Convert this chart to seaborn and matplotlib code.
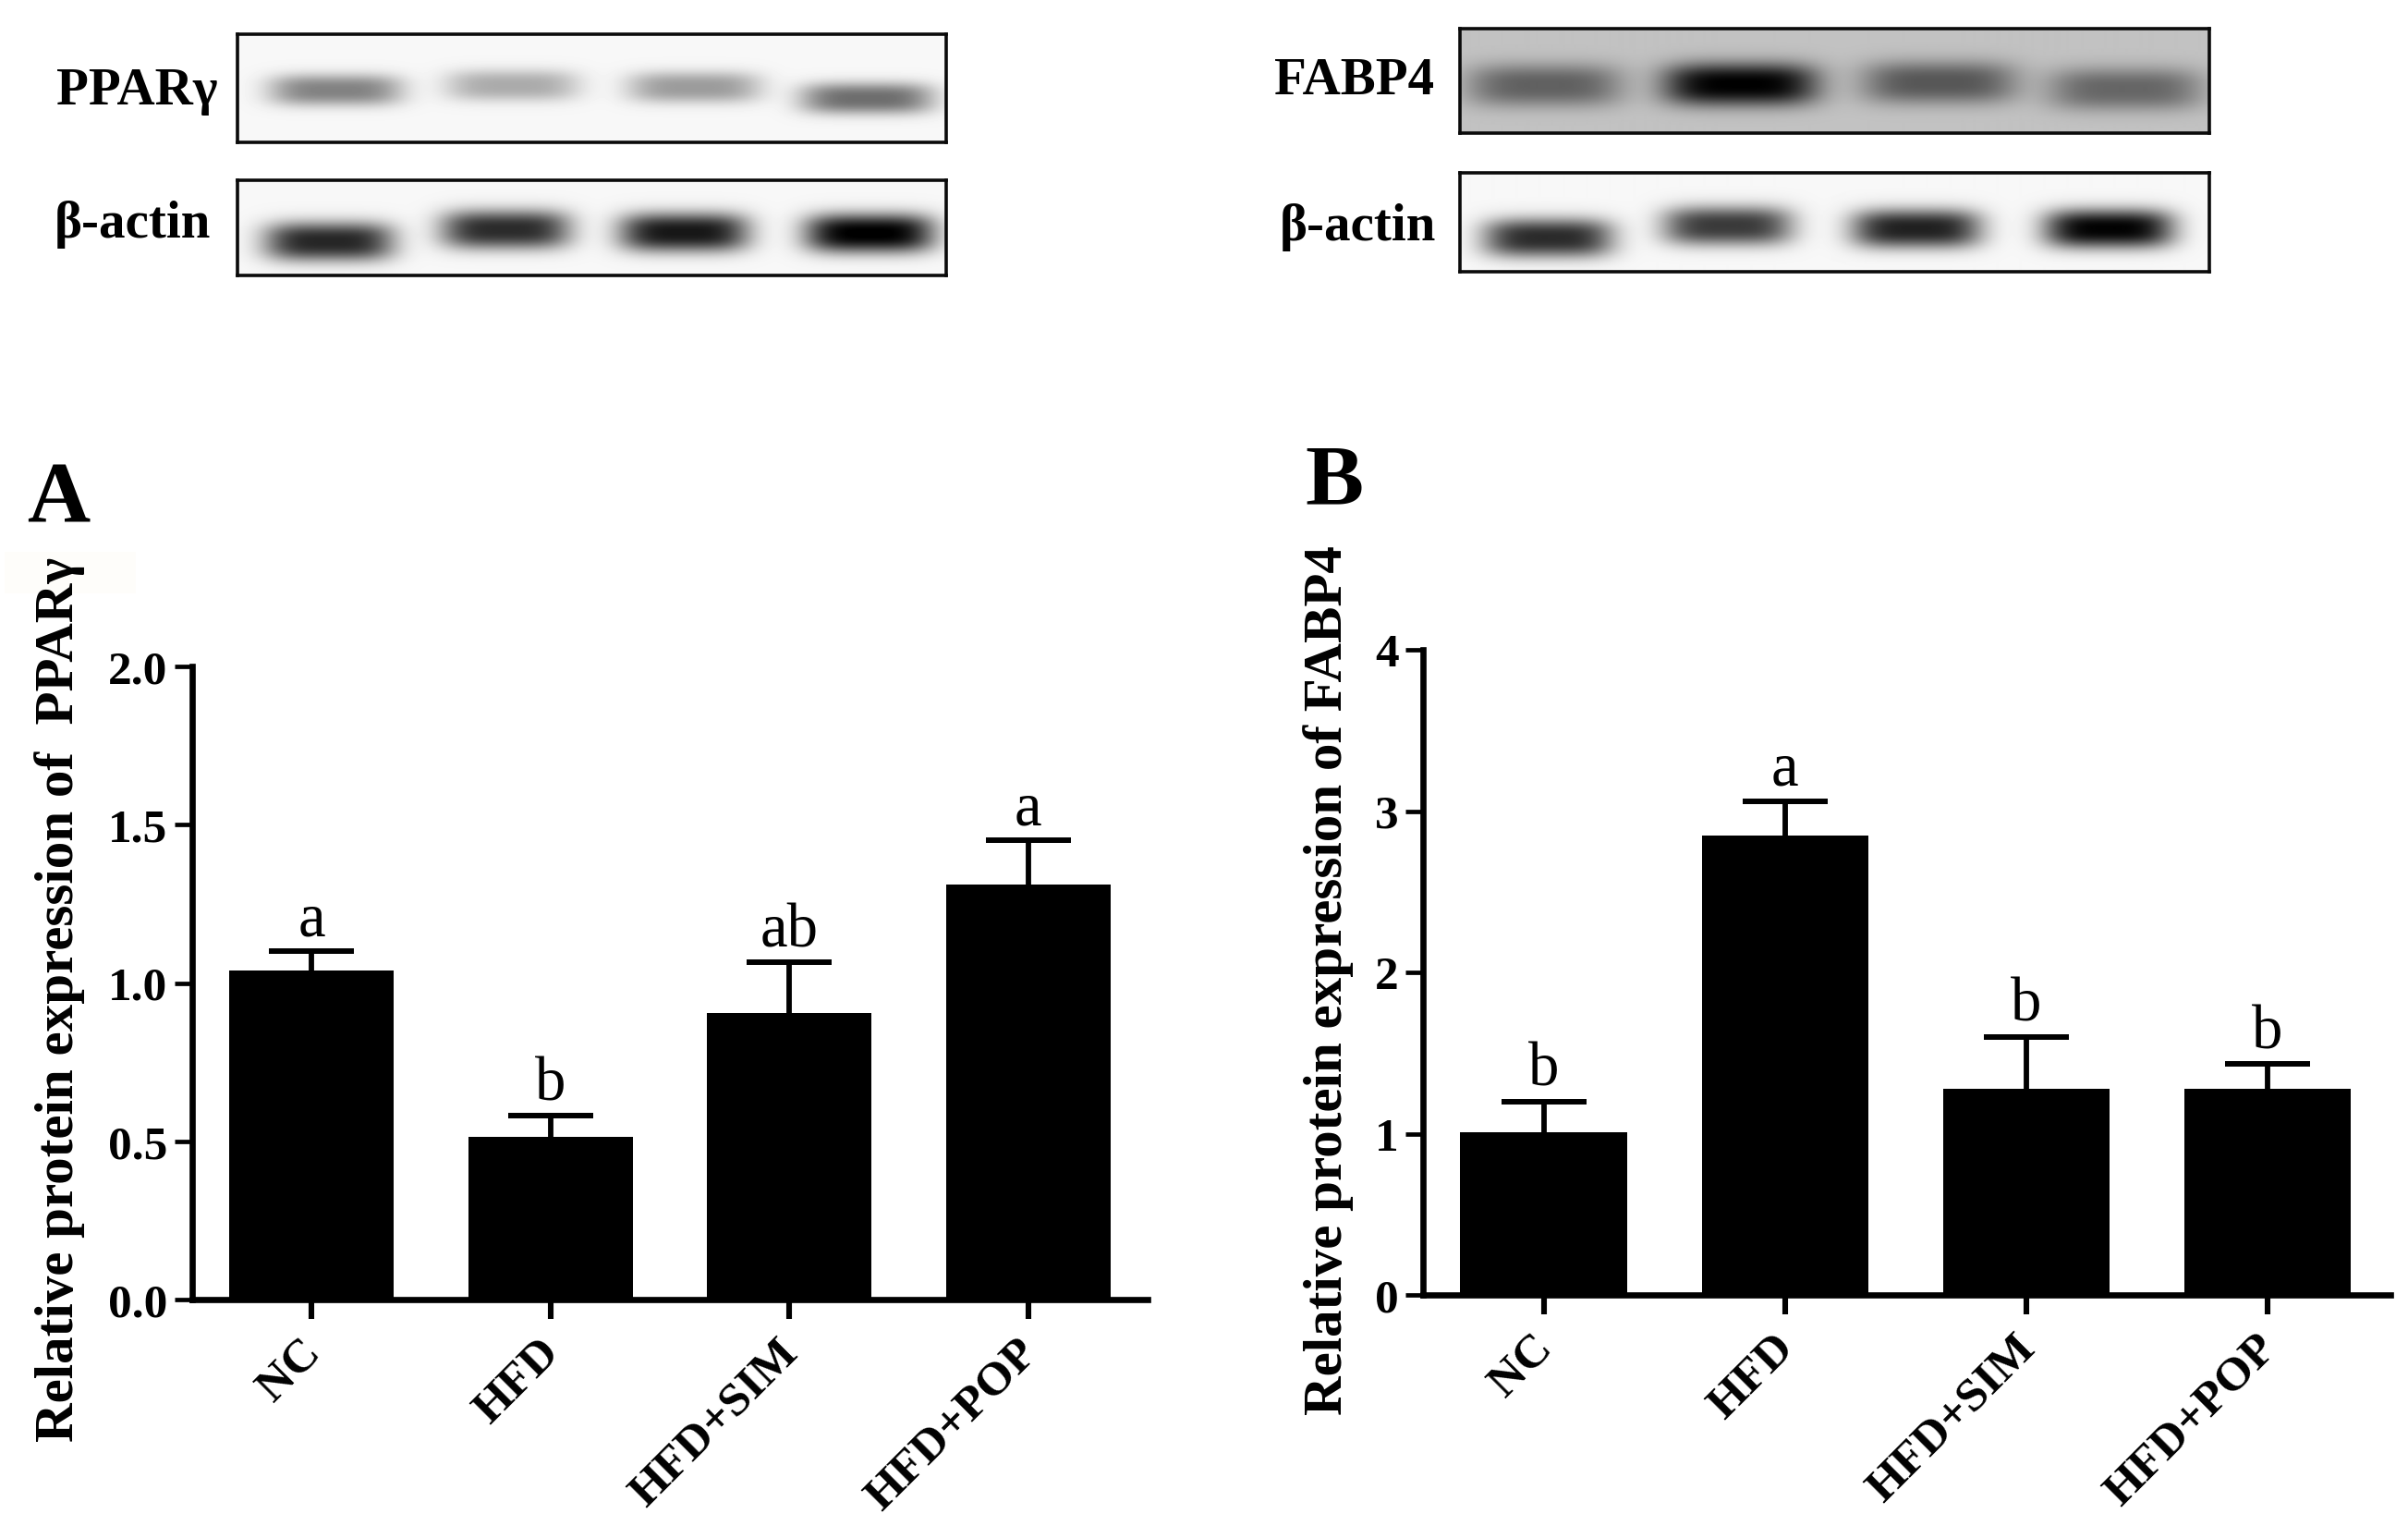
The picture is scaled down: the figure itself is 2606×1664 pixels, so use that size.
import numpy as np
import pandas as pd
import matplotlib
matplotlib.use("Agg")
import matplotlib.pyplot as plt
from matplotlib.patches import Rectangle
from matplotlib.transforms import ScaledTranslation
import seaborn as sns

groups = ["NC", "HFD", "HFD+SIM", "HFD+POP"]
ppar_mean = [1.04, 0.515, 0.905, 1.31]
ppar_err = [0.06, 0.065, 0.16, 0.14]
ppar_sig = ["a", "b", "ab", "a"]
fabp_mean = [1.01, 2.85, 1.28, 1.28]
fabp_err = [0.19, 0.21, 0.32, 0.15]
fabp_sig = ["b", "a", "b", "b"]

band_ppar = [0.46, 0.30, 0.36, 0.54]
band_actin_l = [0.82, 0.80, 0.88, 0.98]
band_fabp = [0.38, 0.76, 0.42, 0.36]
band_actin_r = [0.80, 0.74, 0.84, 0.96]

W, H = 2606, 1665
sns.set_theme(style="ticks")
plt.rcParams["font.family"] = ["Liberation Serif", "DejaVu Serif"]
plt.rcParams["axes.edgecolor"] = "black"
plt.rcParams["text.color"] = "black"
plt.rcParams["xtick.labelcolor"] = "black"
plt.rcParams["ytick.labelcolor"] = "black"
fig = plt.figure(figsize=(W / 100, H / 100), dpi=100, facecolor="white")


def px_axes(x0, y0, x1, y1):
    return fig.add_axes([x0 / W, 1 - y1 / H, (x1 - x0) / W, (y1 - y0) / H])


def blot(box, strengths, lanes, rows, halfw, halfh, bg):
    x0, y0, x1, y1 = box
    ax = px_axes(x0, y0, x1, y1)
    xx, yy = np.meshgrid(np.arange(x0, x1), np.arange(y0, y1))
    img = np.full(xx.shape, bg, dtype=float)
    for s, cx, cy in zip(strengths, lanes, rows):
        dx = np.abs(xx - cx) / halfw
        dy = np.abs(yy - cy) / halfh
        img -= s * np.exp(-dx ** 4 - dy ** 2.6)
    ax.imshow(np.clip(img, 0, 1), cmap="gray", vmin=0, vmax=1, aspect="auto",
              extent=(x0, x1, y1, y0), interpolation="bilinear")
    ax.set_xticks([])
    ax.set_yticks([])
    for s in ax.spines.values():
        s.set_linewidth(2.6)
        s.set_color("#0a0a0a")


blot((257, 38, 1024, 155), band_ppar, [363, 554, 751, 938], [98, 93, 95, 107], 72, 17, 0.97)
blot((257, 196, 1024, 299), band_actin_l, [356, 547, 740, 941], [262, 249, 252, 253], 70, 21, 0.97)
blot((1580, 32, 2391, 145), band_fabp, [1671, 1883, 2098, 2299], [93, 92, 90, 97], 84, 23, 0.76)
blot((1580, 188, 2391, 295), band_actin_r, [1675, 1869, 2073, 2281], [258, 245, 248, 248], 70, 21, 0.97)

for txt, x, y in [("PPARγ", 148, 99), ("β-actin", 143, 243), ("FABP4", 1466, 88), ("β-actin", 1469, 246)]:
    fig.text(x / W, 1 - y / H, txt, fontsize=41, fontweight="bold", ha="center", va="center", color="black")

fig.patches.append(Rectangle((5 / W, 1 - 643 / H), 142 / W, 45 / H, transform=fig.transFigure,
                             facecolor="#fefdfa", edgecolor="none", zorder=-1))


def panel(box, xmax, means, errs, sigs, ymax, step, ylabel, label_xy, fmt, letter, letter_xy):
    x0, y0, x1, y1 = box
    ax = px_axes(x0, y0, x1, y1)
    df = pd.DataFrame({"group": groups, "value": means})
    sns.barplot(data=df, x="group", y="value", ax=ax, color="black", saturation=1,
                width=0.69, errorbar=None, edgecolor="black", linewidth=0, zorder=2)
    eb = ax.errorbar(range(4), means, yerr=[np.zeros(4), errs], fmt="none", ecolor="black",
                     elinewidth=4.2, capsize=33, capthick=4.3, zorder=1)
    eb[1][0].set_visible(False)
    ax.set_xlim(-0.5, xmax)
    ax.set_ylim(0, ymax)
    ticks = np.arange(0, ymax + step / 2, step)
    ax.set_yticks(ticks)
    ax.set_yticklabels([fmt.format(v) for v in ticks], fontsize=37, fontweight="bold", color="black")
    ax.set_xticks(range(4))
    ax.set_xticklabels(groups, rotation=45, ha="right", rotation_mode="anchor",
                       fontsize=37, fontweight="bold", color="black")
    ax.tick_params(axis="y", length=14, width=3.4, color="black", pad=5)
    ax.tick_params(axis="x", length=15, width=4.4, color="black", pad=9)
    shift = ScaledTranslation(-10 / 72, 0, fig.dpi_scale_trans)
    for lab in ax.get_xticklabels():
        lab.set_transform(lab.get_transform() + shift)
    ax.set_xlabel("")
    ax.set_ylabel(ylabel, fontsize=42.5, fontweight="bold", color="black", va="center")
    ax.yaxis.set_label_coords((label_xy[0] - x0) / (x1 - x0), (y1 - label_xy[1]) / (y1 - y0))
    sns.despine(ax=ax)
    for s in ("left", "bottom"):
        ax.spines[s].set_linewidth(4.8)
        ax.spines[s].set_color("black")
    for i, (m, e, t) in enumerate(zip(means, errs, sigs)):
        ax.annotate(t, (i, m + e), xytext=(0, 13), textcoords="offset points",
                    ha="center", va="baseline", fontsize=48, color="black")
    fig.text(letter_xy[0] / W, 1 - letter_xy[1] / H, letter, fontsize=68, fontweight="bold",
             ha="center", va="center", color="black")


panel((208, 722, 1242, 1407), 3.5, ppar_mean, ppar_err, ppar_sig, 2.0, 0.5,
      "Relative protein expression of  PPARγ", (65, 1082), "{:.1f}", "A", (63, 542))
panel((1540, 704, 2587, 1402), 3.51, fabp_mean, fabp_err, fabp_sig, 4, 1,
      "Relative protein expression of FABP4", (1438, 1061), "{:.0f}", "B", (1444, 523))

fig.savefig("out.png", dpi=100, facecolor="white")
